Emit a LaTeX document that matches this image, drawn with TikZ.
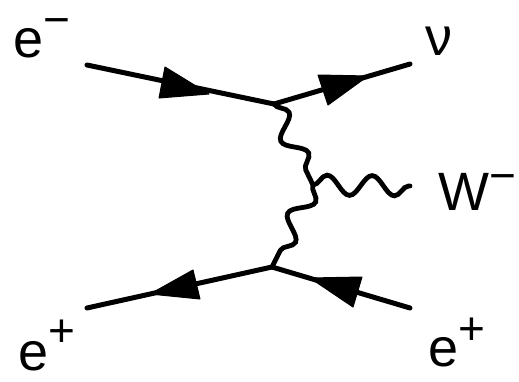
\documentclass[tikz,border=0pt]{standalone}
\usepackage{fontspec}
\setmainfont{Liberation Sans}
\usetikzlibrary{decorations.pathmorphing}
\newcommand{\supmark}[2]{\raisebox{#1}{\fontsize{46}{50}\selectfont #2}}
\begin{document}
\begin{tikzpicture}[x=1pt,y=-1pt,
  fermion/.style={line width=5pt, line cap=round},
  arrowhead/.style={fill=black, draw=black, line width=1pt, line join=round},
  photon/.style={line width=4.8pt, line cap=round, decorate,
    decoration={snake, segment length=45pt, amplitude=10pt}},
  lbl/.style={anchor=base west, inner sep=0pt, text depth=0pt, font=\fontsize{54}{60}\selectfont}]
\useasboundingbox (0,0) rectangle (519,381);
% vertices and free ends
\coordinate (vt) at (274,104);
\coordinate (vm) at (313,185);
\coordinate (vb) at (272,267);
\coordinate (em) at (87,65);
\coordinate (nu) at (410,64);
\coordinate (ep1) at (87,308);
\coordinate (ep2) at (410,308);
\coordinate (w) at (410,186);
% fermion lines
\draw[fermion] (em) -- (vt);
\draw[fermion] (vt) -- (nu);
\draw[fermion] (vb) -- (ep1);
\draw[fermion] (ep2) -- (vb);
% arrowheads
\filldraw[arrowhead] (165,67) -- (159,98) -- (209,94) -- cycle;
\filldraw[arrowhead] (318,75) -- (328,105) -- (368,76) -- cycle;
\filldraw[arrowhead] (150,294) -- (193,270) -- (200,299) -- cycle;
\filldraw[arrowhead] (310,278) -- (362,277) -- (353,307) -- cycle;
% photon lines
\draw[photon] (vt) -- (vm);
\draw[photon] (vm) -- (vb);
\draw[photon] (vm) -- (w);
% labels
\node[lbl] (lem) at (13,57) {e\supmark{22pt}{−}};
\node[lbl] (lnu) at (425,55) {ν};
\node[lbl] (lw) at (438,210) {W\supmark{19pt}{−}};
\node[lbl] (lep1) at (18,370) {e\supmark{24pt}{+}};
\node[lbl] (lep2) at (428,366) {e\supmark{22pt}{+}};
\end{tikzpicture}
\end{document}
